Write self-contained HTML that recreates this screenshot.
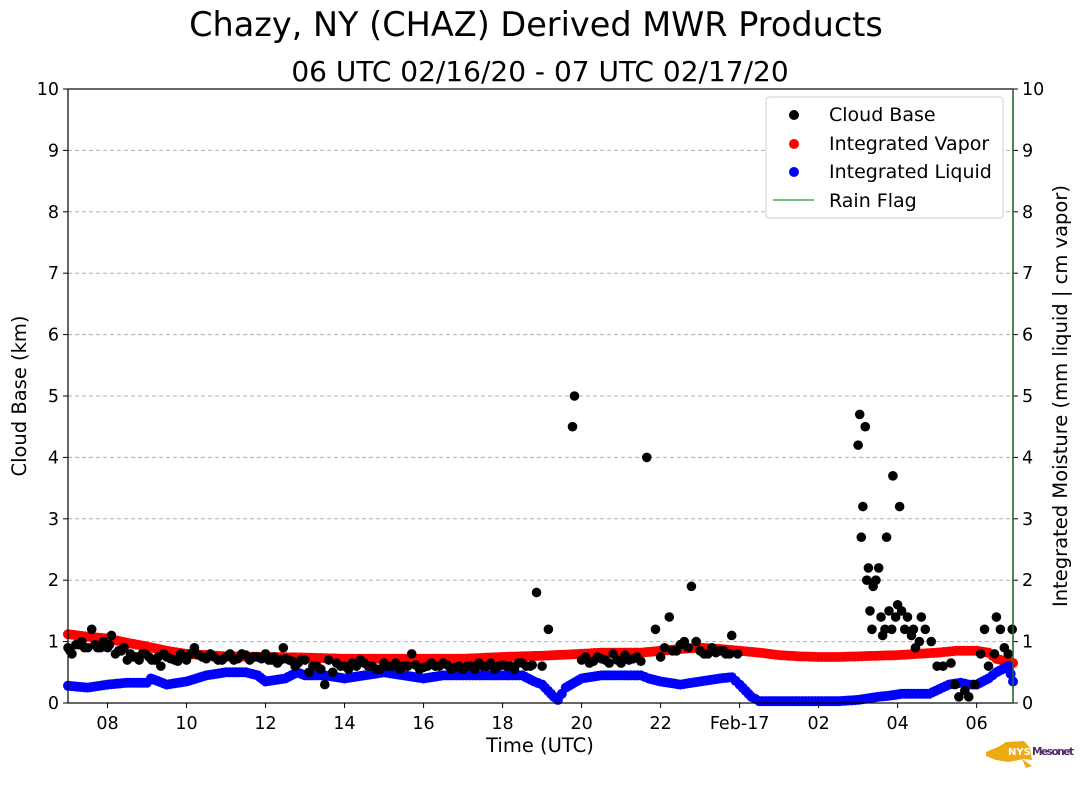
<!DOCTYPE html>
<html><head><meta charset="utf-8"><style>
html,body{margin:0;padding:0;background:#fff;width:1089px;height:804px;overflow:hidden}
svg{display:block;font-family:"DejaVu Sans","Liberation Sans",sans-serif}
</style></head><body>
<svg id="chart" width="1089" height="804">
<text x="536" y="36" text-anchor="middle" font-size="33.5">Chazy, NY (CHAZ) Derived MWR Products</text>
<text x="540" y="81" text-anchor="middle" font-size="28">06 UTC 02/16/20 - 07 UTC 02/17/20</text>
<g id="grid"></g><g id="marks"></g><g id="axes"></g>
<text transform="translate(26,396) rotate(-90)" text-anchor="middle" font-size="19.5">Cloud Base (km)</text>
<text transform="translate(1067,396) rotate(-90)" text-anchor="middle" font-size="19.5">Integrated Moisture (mm liquid | cm vapor)</text>
<text x="540" y="752" text-anchor="middle" font-size="19.5">Time (UTC)</text>
<g>
<rect x="766" y="97" width="237" height="121" fill="#fff" stroke="#ccc" rx="3"/>
<circle cx="794" cy="115" r="5" fill="#000"/><text x="829" y="121" font-size="19">Cloud Base</text>
<circle cx="794" cy="144" r="5" fill="#f00"/><text x="829" y="150" font-size="19">Integrated Vapor</text>
<circle cx="794" cy="172" r="5" fill="#00f"/><text x="829" y="178" font-size="19">Integrated Liquid</text>
<line x1="773" y1="200" x2="814" y2="200" stroke="#4caf50" stroke-width="1.5"/><text x="829" y="207" font-size="19">Rain Flag</text>
</g>
<g>
<path d="M986,752 L1000,746 L1006,742 L1024,741 L1030,748 L1032,760 L1024,759 L1008,762 L996,760 L986,756 Z M1022,759 L1032,766 L1026,768 Z" fill="#eeaa11"/>
<text x="1008" y="755" font-size="10" font-weight="bold" fill="#fff">NYS</text>
<text x="1032" y="755" font-size="10.5" font-weight="bold" fill="#4b2a6b" textLength="42">Mesonet</text>
</g>
</svg>
<script>
// hours since 07 UTC 02/16
const liqT=[0,0.5,1,1.5,2,2.1,2.5,3,3.5,4,4.5,4.8,5,5.5,5.8,6,6.5,7,7.5,8,8.5,9,9.5,10,10.5,11,11.5,11.8,12,12.3,12.4,12.6,13,13.5,14,14.5,14.7,15,15.5,16,16.5,16.8,17,17.3,17.5,18,18.5,19,19.5,20,20.5,20.8,21.1,21.5,21.8,22.3,22.6,22.8,23,23.3,23.5,23.8,23.92];
const liqV=[0.28,0.25,0.3,0.33,0.33,0.4,0.3,0.35,0.45,0.5,0.5,0.45,0.35,0.4,0.5,0.45,0.45,0.4,0.45,0.5,0.45,0.4,0.45,0.45,0.45,0.45,0.45,0.35,0.3,0.1,0.05,0.25,0.4,0.45,0.45,0.45,0.4,0.35,0.3,0.35,0.4,0.42,0.3,0.1,0.03,0.03,0.03,0.03,0.03,0.05,0.1,0.12,0.15,0.15,0.15,0.3,0.33,0.3,0.3,0.4,0.5,0.6,0.35];
const vapT=[0,0.5,1,1.5,2,2.5,3,4,5,6,7,8,9,10,11,12,13,13.5,14,14.5,15,15.5,16,16.5,17,17.5,18,18.5,19,19.5,20,20.5,21,21.5,22,22.5,23,23.3,23.5,23.92];
const vapV=[1.12,1.08,1.05,0.98,0.92,0.85,0.8,0.76,0.75,0.74,0.72,0.72,0.72,0.72,0.75,0.77,0.8,0.82,0.82,0.82,0.85,0.88,0.9,0.88,0.85,0.82,0.78,0.76,0.75,0.75,0.76,0.77,0.78,0.8,0.82,0.85,0.85,0.82,0.72,0.65];
const cbT=[0,0.1,0.2,0.35,0.5,0.6,0.75,0.9,1.0,1.1,1.2,1.35,1.5,1.65,1.8,1.95,2.05,2.2,2.35,2.5,2.7,2.85,3.0,3.2,3.4,3.6,3.8,4.0,4.2,4.4,4.6,4.8,5.0,5.15,5.3,5.45,5.6,5.75,5.9,6.1,6.3,6.5,6.7,6.9,7.1,7.3,7.5,7.7,7.9,8.1,8.3,8.5,8.7,8.9,9.1,9.3,9.5,9.7,9.9,10.1,10.3,10.5,10.7,10.9,11.1,11.3,11.5,11.7,11.86,12.0,12.16,12.77,12.82,13.0,13.2,13.4,13.6,13.8,14.0,14.2,14.4,14.65,14.87,15.0,15.22,15.4,15.6,15.78,15.9,16.1,16.3,16.5,16.65,16.8,16.95,20.0,20.04,20.08,20.12,20.18,20.22,20.26,20.3,20.35,20.38,20.45,20.52,20.58,20.62,20.68,20.72,20.78,20.85,20.88,20.95,21.0,21.05,21.1,21.18,21.25,21.35,21.4,21.45,21.55,21.6,21.7,21.85,22.0,22.15,22.35,22.45,22.55,22.7,22.8,22.95,23.1,23.2,23.3,23.45,23.5,23.6,23.7,23.8,23.9,
0.05,0.28,0.42,0.68,0.82,1.05,1.28,1.42,1.58,1.72,1.88,2.12,2.28,2.42,2.6,2.78,2.92,3.1,3.3,3.5,3.7,3.9,4.1,4.3,4.5,4.7,4.9,5.08,5.22,5.38,5.52,5.68,5.82,6.0,6.2,6.4,6.6,6.8,7.0,7.2,7.4,7.6,7.8,8.0,8.2,8.4,8.6,8.8,9.0,9.2,9.4,9.6,9.8,10.0,10.2,10.4,10.6,10.8,11.0,11.2,11.4,11.6,11.75,13.1,13.3,13.5,13.7,13.9,14.1,14.3,14.5,15.1,15.3,15.5,15.7,16.0,16.2,16.4,16.6,16.75];
const cbV=[0.9,0.8,0.95,1.0,0.9,1.2,0.9,1.0,0.9,1.1,0.8,0.85,0.7,0.75,0.7,0.8,0.75,0.7,0.6,0.75,0.7,0.8,0.7,0.9,0.75,0.8,0.7,0.75,0.7,0.8,0.7,0.75,0.8,0.7,0.65,0.9,0.7,0.6,0.7,0.5,0.6,0.3,0.5,0.6,0.55,0.6,0.65,0.6,0.55,0.6,0.65,0.6,0.8,0.55,0.6,0.6,0.65,0.55,0.6,0.6,0.55,0.6,0.65,0.6,0.6,0.55,0.65,0.6,1.8,0.6,1.2,4.5,5.0,0.7,0.65,0.75,0.7,0.8,0.65,0.7,0.75,4.0,1.2,0.75,1.4,0.85,1.0,1.9,1.0,0.8,0.9,0.85,0.8,1.1,0.8,4.2,4.7,2.7,3.2,4.5,2.0,2.2,1.5,1.2,1.9,2.0,2.2,1.4,1.1,1.2,2.7,1.5,1.2,3.7,1.4,1.6,3.2,1.5,1.2,1.4,1.1,1.2,0.9,1.0,1.4,1.2,1.0,0.6,0.6,0.65,0.3,0.1,0.2,0.1,0.3,0.8,1.2,0.6,0.8,1.4,1.2,0.9,0.8,1.2,
0.85,0.95,0.9,0.95,0.9,0.95,0.85,0.9,0.8,0.75,0.8,0.7,0.75,0.8,0.72,0.68,0.75,0.8,0.78,0.72,0.75,0.7,0.8,0.72,0.78,0.75,0.72,0.7,0.75,0.7,0.72,0.68,0.65,0.7,0.6,0.55,0.7,0.65,0.6,0.65,0.7,0.6,0.55,0.65,0.6,0.55,0.6,0.62,0.58,0.65,0.6,0.62,0.58,0.55,0.6,0.65,0.6,0.55,0.62,0.6,0.65,0.6,0.62,0.75,0.68,0.72,0.65,0.7,0.78,0.72,0.68,0.9,0.85,0.95,0.9,0.85,0.8,0.82,0.85,0.8];
const xTickLabels=["08","10","12","14","16","18","20","22","Feb-17","02","04","06"];
const xTickHours=[1,3,5,7,9,11,13,15,17,19,21,23];
const yTicks=[0,1,2,3,4,5,6,7,8,9,10];

const L=68,R=1013,T=89,B=703,HMAX=23.92;
const xs=h=>L+h/HMAX*(R-L);
const ys=v=>B-v/10*(B-T);
const NS="http://www.w3.org/2000/svg";
function mk(tag,attrs,parent){const e=document.createElementNS(NS,tag);for(const k in attrs)e.setAttribute(k,attrs[k]);parent.appendChild(e);return e;}
const grid=document.getElementById('grid'),marks=document.getElementById('marks'),axes=document.getElementById('axes');
yTicks.forEach(v=>{
  if(v>0&&v<10){const g=mk('line',{x1:L,x2:R,y1:ys(v),y2:ys(v),stroke:'#b0b0b0','stroke-dasharray':'4,3','stroke-width':1},grid);
  
  }
  mk('line',{x1:L-5,x2:L,y1:ys(v),y2:ys(v),stroke:'#000'},axes);
  mk('line',{x1:R,x2:R+5,y1:ys(v),y2:ys(v),stroke:'#000'},axes);
  const t=mk('text',{x:L-9,y:ys(v)+6,'text-anchor':'end','font-size':17.5},axes);t.textContent=v;
  
  
  const t2=mk('text',{x:R+9,y:ys(v)+6,'font-size':17.5},axes);t2.textContent=v;
  
  
});
xTickHours.forEach((h,i)=>{
  mk('line',{x1:xs(h),x2:xs(h),y1:B,y2:B+5,stroke:'#000'},axes);
  const t=mk('text',{x:xs(h),y:B+26,'text-anchor':'middle','font-size':17.5},axes);t.textContent=xTickLabels[i];
  
  
});
mk('rect',{x:L,y:T,width:R-L,height:B-T,fill:'none',stroke:'#000','stroke-width':1.2},axes);
mk('line',{x1:R,x2:R,y1:T,y2:B,stroke:'#2e6b2e','stroke-width':1.5},axes);
function series(T_,V_,color,step,name){
  for(let i=0;i<T_.length-1;i++){
    const n=Math.max(1,Math.round((T_[i+1]-T_[i])/step));
    for(let k=0;k<n;k++){const f=k/n;const h=T_[i]+f*(T_[i+1]-T_[i]);const v=V_[i]+f*(V_[i+1]-V_[i]);
      const c=mk('circle',{cx:xs(h),cy:ys(v),r:5,fill:color},marks);
      
      }
  }
  const c=mk('circle',{cx:xs(T_[T_.length-1]),cy:ys(V_[V_.length-1]),r:5,fill:color},marks);
  
  
}
series(vapT,vapV,'#f00',0.08,'vapor-point');
series(liqT,liqV,'#00f',0.08,'liquid-point');
cbT.forEach((h,i)=>{const c=mk('circle',{cx:xs(h),cy:ys(cbV[i]),r:4.8,fill:'#000'},marks);
  
  });
</script>
</body></html>
